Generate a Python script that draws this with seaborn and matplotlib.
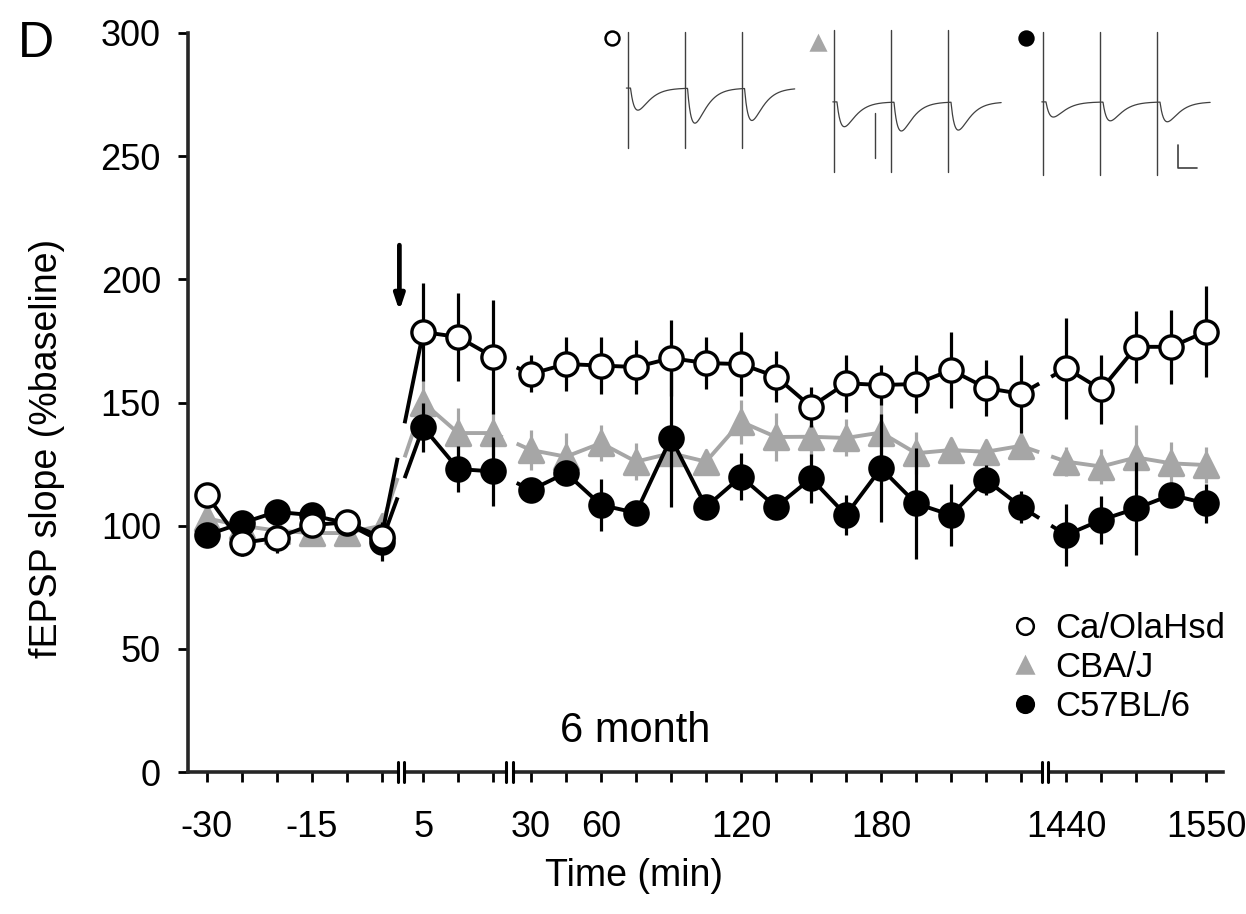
import numpy as np
import pandas as pd
import matplotlib
matplotlib.use("Agg")
import matplotlib.pyplot as plt
import seaborn as sns
from matplotlib.lines import Line2D

# ---------------------------------------------------------------- data
strains = ["Ca/OlaHsd", "CBA/J", "C57BL/6"]

# recording phases (min): baseline, post-tetanus, 30-240 min, next day
t_base = [-30, -25, -20, -15, -10, -5]
t_post = [5, 10, 15]
t_late = [30, 45, 60, 75, 90, 105, 120, 135, 150, 165, 180, 195, 210, 225, 240]
t_day = [1440, 1467.5, 1495, 1522.5, 1550]

# fEPSP slope (% baseline), mean and SEM, in time order over all phases
ca_mean = [112.5, 93, 95, 100.3, 101.3, 95.4,
           178.6, 176.6, 168.5,
           161.6, 165.6, 165, 164.4, 168, 166, 165.6, 160.5, 148.3, 157.8,
           157.1, 157.5, 163.2, 155.9, 153.5,
           163.9, 155.3, 172.6, 172.6, 178.8]
ca_sem = [3, 5.5, 6, 3, 3, 4,
          20, 18, 23,
          7.5, 11, 11.5, 11, 15.5, 10.7, 13, 10.3, 8.1, 11.5, 8, 11.8, 15.6,
          11.4, 15.8,
          20.5, 14, 14.5, 15, 18.5]

cba_mean = [103, 100, 98, 97, 97, 100,
            150, 137.6, 137.6,
            130.7, 128, 133.5, 126, 129.4, 126, 142.2, 136, 136.1, 135.6,
            137.8, 129.4, 130.7, 130, 132.4,
            126, 124, 127.7, 125.3, 124.6]
cba_sem = [3, 3, 3, 3, 3, 3,
           9, 10, 9,
           8, 9.6, 7.4, 7.5, 6, 4, 9, 9.6, 8, 7.5, 16, 8.6, 3, 4, 3,
           6, 7, 13, 8.7, 7.4]

c57_mean = [96.2, 101, 105.6, 104.3, 101, 93.5,
            140, 123, 122,
            114.5, 121.4, 108.4, 105.2, 135.6, 107.6, 119.9, 107.6, 119.2,
            104.3, 123.3, 109, 104.3, 118.6, 107.7,
            96.2, 102.3, 107, 112.5, 109]
c57_sem = [3, 3, 3, 3, 3, 8,
           10, 9.3, 14,
           3, 3, 10.5, 3, 28, 3, 9.6, 3, 10, 8, 22, 22.5, 12.5, 6, 6.5,
           12.5, 9.8, 19, 3, 8]

# x tick labels shown under the broken axis
tick_labels = {-30: "-30", -15: "-15", 5: "5", 30: "30", 60: "60",
               120: "120", 180: "180", 1440: "1440", 1550: "1550"}

# representative sweeps (three responses each): trough depth in mV
sweep_depth = {"Ca/OlaHsd": [0.48, 0.76, 0.70],
               "CBA/J": [0.54, 0.63, 0.61],
               "C57BL/6": [0.33, 0.41, 0.43]}

# ---------------------------------------------------------------- layout
W, H, DPI = 1246, 914, 100
phases = [t_base, t_post, t_late, t_day]
phase_start = [0.0, 6.19, 9.27, 24.56]       # axis units (1 unit = 1 tick)
breaks = [5.56, 8.66, 23.96]
gap_half = [0.1, 0.2, 0.17]

positions, times, phase_id = [], [], []
for k, (ts, s0) in enumerate(zip(phases, phase_start)):
    for i, t in enumerate(ts):
        positions.append(s0 + i)
        times.append(t)
        phase_id.append(k)
positions = np.array(positions)

styles = {
    "Ca/OlaHsd": dict(marker="o", face="white", edge="black", line="black", z=6),
    "CBA/J": dict(marker="^", face="#a6a6a6", edge="#a6a6a6", line="#a6a6a6", z=2),
    "C57BL/6": dict(marker="o", face="black", edge="black", line="black", z=4),
}
means = {"Ca/OlaHsd": ca_mean, "CBA/J": cba_mean, "C57BL/6": c57_mean}
sems = {"Ca/OlaHsd": ca_sem, "CBA/J": cba_sem, "C57BL/6": c57_sem}

frames = []
for s in strains:
    frames.append(pd.DataFrame({"strain": s, "pos": positions, "time": times,
                                "phase": phase_id, "slope": means[s],
                                "sem": sems[s]}))
df = pd.concat(frames, ignore_index=True)

# ---------------------------------------------------------------- style
sns.set_style("ticks")
plt.rcParams["font.family"] = ["Liberation Sans", "DejaVu Sans"]
plt.rcParams["text.color"] = "black"
plt.rcParams["axes.labelcolor"] = "black"
plt.rcParams["xtick.color"] = "black"
plt.rcParams["ytick.color"] = "black"

fig = plt.figure(figsize=(W / DPI, H / DPI), dpi=DPI)
fig.patch.set_facecolor("white")


def fx(px):
    return px / W


def fy(py):
    return 1 - py / H


ax = fig.add_axes([fx(188), fy(772), (1223 - 188) / W, (772 - 33) / H])
ax.set_xlim(-0.529, 29.04)
ax.set_ylim(0, 300)

LW = 2.8
for s in ["CBA/J", "C57BL/6", "Ca/OlaHsd"]:
    st = styles[s]
    d = df[df.strain == s].reset_index(drop=True)
    # connecting lines, interrupted where the time axis is broken
    for k in range(4):
        seg = d[d.phase == k]
        ax.plot(seg.pos, seg.slope, color=st["line"], lw=LW, zorder=st["z"],
                solid_capstyle="butt")
        if k < 3:
            a = seg.iloc[-1]
            b = d[d.phase == k + 1].iloc[0]
            xb, hw = breaks[k], gap_half[k]
            for x0, x1 in [(a.pos, xb - hw), (xb + hw, b.pos)]:
                y0 = a.slope + (b.slope - a.slope) * (x0 - a.pos) / (b.pos - a.pos)
                y1 = a.slope + (b.slope - a.slope) * (x1 - a.pos) / (b.pos - a.pos)
                ax.plot([x0, x1], [y0, y1], color=st["line"], lw=LW,
                        zorder=st["z"], solid_capstyle="butt")
    ax.vlines(d.pos, d.slope - d["sem"], d.slope + d["sem"], color=st["line"],
              lw=2.3, zorder=st["z"])
    sns.scatterplot(data=d, x="pos", y="slope", marker=st["marker"],
                    color=st["face"], edgecolor=st["edge"], linewidth=2.4,
                    s=280 if st["marker"] == "o" else 300, ax=ax,
                    zorder=st["z"] + 0.5, legend=False)

# axes cosmetics
sns.despine(ax=ax)
for sp in ("left", "bottom"):
    ax.spines[sp].set_linewidth(2.6)
ax.set_yticks(range(0, 301, 50))
ax.set_xticks(positions)
ax.set_xticklabels([tick_labels.get(t, "") for t in times])
ax.tick_params(axis="both", direction="out", length=7.5, width=2.0,
               labelsize=26)
ax.tick_params(axis="x", pad=20)
ax.tick_params(axis="y", pad=12)
ax.set_xlabel("")
ax.set_ylabel("")

# axis-break marks
for xb in breaks:
    ax.fill_between([xb - 0.09, xb + 0.09], -0.015, 0.015, color="white",
                    transform=ax.get_xaxis_transform(), zorder=10, clip_on=False)
    for dx in (-0.09, 0.09):
        ax.plot([xb + dx, xb + dx], [-0.014, 0.014], color="black", lw=2.2,
                transform=ax.get_xaxis_transform(), clip_on=False, zorder=11)

# stimulation arrow
ax.annotate("", xy=(5.51, 186), xytext=(5.51, 215),
            arrowprops=dict(arrowstyle="-|>,head_width=0.3,head_length=0.9",
                            color="black", lw=3.4))

fig.text(fx(635), fy(742), "6 month", fontsize=30, ha="center", va="baseline")
fig.text(fx(634), fy(886), "Time (min)", fontsize=27, ha="center",
         va="baseline")
fig.text(fx(47), fy(448), "fEPSP slope (%baseline)", fontsize=27,
         rotation=90, ha="center", va="center")
fig.text(fx(18), fy(57), "D", fontsize=36, ha="left", va="baseline")

# legend
handles = []
for s in strains:
    st = styles[s]
    handles.append(Line2D([], [], ls="none", marker=st["marker"],
                          markerfacecolor=st["face"], markeredgecolor=st["edge"],
                          markeredgewidth=1.8, markersize=12))
fig.legend(handles, strains, loc="upper left",
           bbox_to_anchor=(fx(1008), fy(612)), frameon=False, fontsize=25,
           borderpad=0, borderaxespad=0, handlelength=1.0, handletextpad=0.35,
           labelspacing=0.18)

# ---------------------------------------------------------------- inset sweeps
px_per_ms, px_per_mv = 3.8, 46.0
ins = fig.add_axes([fx(590), fy(220), 640 / W, 200 / H])
ins.set_xlim(0, 640 / px_per_ms)
ins.set_ylim(-200 / px_per_mv, 0)
ins.axis("off")

sweep_origin = {"Ca/OlaHsd": (9.87, -1.48), "CBA/J": (64.2, -1.78),
                "C57BL/6": (119.2, -1.78)}
artifact = {"Ca/OlaHsd": (1.22, 1.30), "CBA/J": (1.57, 1.52),
            "C57BL/6": (1.52, 1.59)}
symbol_at = {"Ca/OlaHsd": (5.8, -0.39), "CBA/J": (60.0, -0.5),
             "C57BL/6": (114.7, -0.39)}
isi, delay, tau_r, tau_d = 15.0, 0.8, 1.6, 2.4
tt = np.linspace(-0.3, 44, 900)
tp = np.log(tau_d / tau_r) * tau_r * tau_d / (tau_d - tau_r)
norm = np.exp(-tp / tau_d) - np.exp(-tp / tau_r)
for s in strains:
    t0, base = sweep_origin[s]
    v = np.zeros_like(tt)
    for j, depth in enumerate(sweep_depth[s]):
        dt = tt - j * isi - delay
        r = np.where(dt > 0, np.exp(-dt / tau_d) - np.exp(-dt / tau_r), 0)
        v -= depth * r / norm
    ins.plot(t0 + tt, base + v, color="#404040", lw=0.9)
    up, dn = artifact[s]
    for j in range(3):
        ins.plot([t0 + j * isi] * 2, [base + up, base - dn], color="#404040",
                 lw=1.0)
    st = styles[s]
    sx, sy = symbol_at[s]
    ins.plot(sx, sy, marker=st["marker"], ms=10, mfc=st["face"],
             mec=st["edge"], mew=1.8)
# stray artifact line in the CBA/J sweep
t0, base = sweep_origin["CBA/J"]
ins.plot([t0 + 10.8] * 2, [base - 0.24, base - 1.22], color="#404040", lw=1.0)
# scale bar: 5 ms, 0.5 mV
ins.plot([154.7, 154.7, 159.7], [-2.72, -3.22, -3.22], color="#404040", lw=1.2)

fig.savefig("out.png", dpi=DPI)
